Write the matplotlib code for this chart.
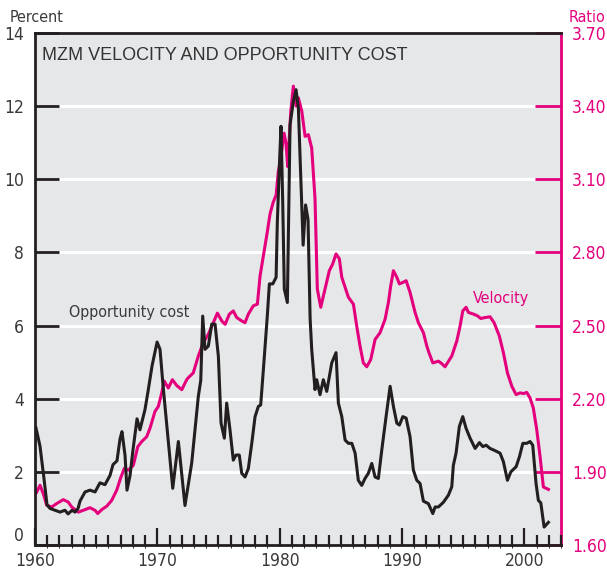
import numpy as np
import matplotlib.pyplot as plt
from matplotlib.ticker import MultipleLocator

# opportunity cost (percent, left axis)
oc_year = [1960.08, 1960.41, 1960.74, 1960.98, 1961.23, 1961.64, 1962.04, 1962.45, 1962.70,
           1963.03, 1963.27, 1963.52, 1963.68, 1964.09, 1964.50, 1964.91, 1965.31, 1965.72,
           1966.13, 1966.38, 1966.70, 1966.95, 1967.11, 1967.36, 1967.52, 1967.77, 1968.01,
           1968.34, 1968.58, 1968.99, 1969.24, 1969.57, 1969.98, 1970.22, 1970.47, 1971.26,
           1971.72, 1972.26, 1972.81, 1973.35, 1973.55, 1973.71, 1973.90, 1974.17, 1974.45,
           1974.72, 1974.99, 1975.21, 1975.48, 1975.67, 1975.94, 1976.21, 1976.43, 1976.70,
           1976.90, 1977.17, 1977.44, 1977.72, 1977.99, 1978.26, 1978.45, 1978.67, 1978.99,
           1979.16, 1979.44, 1979.71, 1979.81, 1979.98, 1980.11, 1980.25, 1980.38, 1980.63,
           1980.85, 1981.12, 1981.34, 1981.53, 1981.73, 1981.92, 1982.12, 1982.32, 1982.49,
           1982.62, 1982.89, 1983.03, 1983.30, 1983.57, 1983.85, 1984.26, 1984.61, 1984.80,
           1985.08, 1985.35, 1985.62, 1985.90, 1986.17, 1986.43, 1986.71, 1986.98, 1987.25,
           1987.53, 1987.80, 1988.07, 1988.35, 1988.70, 1989.03, 1989.30, 1989.58, 1989.79,
           1990.07, 1990.34, 1990.66, 1990.93, 1991.21, 1991.48, 1991.75, 1992.16, 1992.52,
           1992.71, 1992.98, 1993.39, 1993.79, 1994.07, 1994.20, 1994.42, 1994.69, 1994.97,
           1995.24, 1995.57, 1995.98, 1996.33, 1996.61, 1996.88, 1997.20, 1997.61, 1998.02,
           1998.29, 1998.62, 1998.90, 1999.33, 1999.60, 1999.88, 2000.20, 2000.47, 2000.69,
           2000.96, 2001.15, 2001.35, 2001.62, 2001.97]
oc_value = [3.2, 2.7, 1.8, 1.1, 1.0, 0.95, 0.9, 0.95, 0.85,
            0.95, 0.9, 1.0, 1.2, 1.45, 1.5, 1.45, 1.7, 1.65,
            1.9, 2.2, 2.3, 2.9, 3.1, 2.45, 1.5, 1.9, 2.6,
            3.45, 3.15, 3.7, 4.2, 4.9, 5.55, 5.35, 4.35, 1.55,
            2.83, 1.08, 2.24, 4.06, 4.5, 6.26, 5.35, 5.44, 6.04,
            6.04, 5.16, 3.33, 2.92, 3.88, 3.15, 2.32, 2.46, 2.46,
            1.96, 1.86, 2.09, 2.78, 3.51, 3.79, 3.83, 4.8, 6.26,
            7.14, 7.14, 7.32, 8.83, 10.39, 11.45, 9.38, 7.0, 6.63,
            11.49, 12.13, 12.45, 11.95, 10.0, 8.2, 9.3, 8.9, 6.2,
            5.35, 4.25, 4.52, 4.11, 4.52, 4.2, 4.98, 5.26, 3.88,
            3.51, 2.87, 2.78, 2.78, 2.51, 1.77, 1.63, 1.82, 1.96,
            2.23, 1.86, 1.82, 2.6, 3.51, 4.34, 3.79, 3.33, 3.28,
            3.51, 3.47, 2.96, 2.05, 1.77, 1.68, 1.2, 1.13, 0.86,
            1.04, 1.04, 1.17, 1.36, 1.59, 2.18, 2.51, 3.24, 3.51,
            3.19, 2.92, 2.64, 2.8, 2.69, 2.73, 2.64, 2.58, 2.51,
            2.28, 1.77, 2.0, 2.14, 2.41, 2.78, 2.78, 2.83, 2.73,
            1.68, 1.22, 1.15, 0.49, 0.62]

# MZM velocity (ratio, right axis)
vel_year = [1960.14, 1960.41, 1960.68, 1960.96, 1961.37, 1961.77, 1962.31, 1962.72, 1963.00,
            1963.54, 1964.09, 1964.50, 1964.91, 1965.13, 1965.45, 1965.86, 1966.27, 1966.68,
            1967.03, 1967.30, 1967.63, 1968.04, 1968.40, 1968.72, 1969.13, 1969.40, 1969.81,
            1970.08, 1970.36, 1970.57, 1970.90, 1971.23, 1971.59, 1972.00, 1972.40, 1972.53,
            1972.94, 1973.35, 1973.76, 1974.17, 1974.58, 1974.91, 1975.27, 1975.54, 1975.89,
            1976.21, 1976.49, 1976.90, 1977.17, 1977.44, 1977.85, 1978.18, 1978.40, 1978.72,
            1978.99, 1979.22, 1979.48, 1979.71, 1979.89, 1980.11, 1980.36, 1980.52, 1980.66,
            1980.91, 1981.12, 1981.34, 1981.53, 1981.81, 1982.08, 1982.35, 1982.62, 1982.89,
            1983.08, 1983.36, 1983.71, 1984.06, 1984.34, 1984.61, 1984.88, 1985.08, 1985.35,
            1985.62, 1986.03, 1986.30, 1986.57, 1986.84, 1987.12, 1987.45, 1987.80, 1988.21,
            1988.62, 1988.89, 1989.08, 1989.30, 1989.58, 1989.79, 1990.07, 1990.34, 1990.66,
            1991.07, 1991.34, 1991.75, 1992.03, 1992.20, 1992.52, 1992.98, 1993.25, 1993.52,
            1994.07, 1994.48, 1994.75, 1994.97, 1995.24, 1995.43, 1995.84, 1996.17, 1996.44,
            1996.79, 1997.20, 1997.53, 1997.96, 1998.29, 1998.62, 1998.98, 1999.33, 1999.66,
            1999.93, 2000.20, 2000.47, 2000.74, 2001.02, 2001.29, 2001.56, 2001.97]
vel_value = [1.817, 1.845, 1.81, 1.763, 1.756, 1.77, 1.786, 1.776, 1.756,
             1.735, 1.745, 1.753, 1.742, 1.729, 1.745, 1.759, 1.783, 1.825,
             1.879, 1.914, 1.907, 1.927, 2.003, 2.024, 2.044, 2.079, 2.148,
             2.168, 2.224, 2.272, 2.244, 2.278, 2.254, 2.237, 2.278, 2.286,
             2.306, 2.375, 2.43, 2.464, 2.512, 2.551, 2.519, 2.505, 2.547,
             2.56, 2.533, 2.519, 2.512, 2.547, 2.581, 2.588, 2.704, 2.801,
             2.884, 2.959, 3.007, 3.035, 3.131, 3.193, 3.289, 3.248, 3.152,
             3.379, 3.482, 3.40, 3.434, 3.379, 3.276, 3.283, 3.228, 3.021,
             2.65, 2.575, 2.65, 2.725, 2.753, 2.794, 2.774, 2.698, 2.657,
             2.616, 2.588, 2.498, 2.416, 2.347, 2.331, 2.361, 2.443, 2.471,
             2.526, 2.595, 2.663, 2.725, 2.698, 2.671, 2.677, 2.684, 2.636,
             2.554, 2.512, 2.471, 2.416, 2.39, 2.347, 2.354, 2.344, 2.331,
             2.375, 2.436, 2.498, 2.56, 2.575, 2.554, 2.547, 2.54, 2.529,
             2.533, 2.536, 2.512, 2.457, 2.389, 2.306, 2.251, 2.217, 2.224,
             2.221, 2.226, 2.203, 2.161, 2.072, 1.962, 1.838, 1.828]

pct_ticks = [0, 2, 4, 6, 8, 10, 12, 14]
ratio_ticks = [1.60, 1.90, 2.20, 2.50, 2.80, 3.10, 3.40, 3.70]
year_ticks = [1960, 1970, 1980, 1990, 2000]

PINK = '#e4007c'
BLACK = '#231f20'
TXT = '#3a3a3a'
BG = '#e6e7e9'
NARROW = dict(family='DejaVu Sans', stretch='condensed', fontsize=12.5)
WORDS = dict(family='DejaVu Sans', stretch='condensed', fontsize=11.5)

fig = plt.figure(figsize=(6.07, 5.73), dpi=100)
rect = [35 / 607, 1 - 545 / 573, 526 / 607, 512 / 573]
ax2 = fig.add_axes(rect)             # velocity, drawn behind
ax = fig.add_axes(rect, sharex=ax2)  # opportunity cost, on top
ax2.set_facecolor(BG)
ax.patch.set_visible(False)

ax.set_xlim(1960, 2003)
ax.set_ylim(0, 14)
ax2.set_ylim(1.6, 3.7)
for v in ratio_ticks[1:-1]:
    ax2.axhline(v, color='white', lw=2.2, zorder=1)

ax2.plot(vel_year, vel_value, color=PINK, lw=2.2, zorder=3)
ax.plot(oc_year, oc_value, color=BLACK, lw=2.2, zorder=4)

# spines
for s in ['left', 'top', 'bottom']:
    ax.spines[s].set_color(BLACK)
    ax.spines[s].set_linewidth(2.0)
ax.spines['right'].set_visible(False)
for s in ['left', 'top', 'bottom']:
    ax2.spines[s].set_visible(False)
ax2.spines['right'].set_color(PINK)
ax2.spines['right'].set_linewidth(2.0)

# left axis
ax.set_yticks(pct_ticks)
ax.set_yticklabels([str(v) for v in pct_ticks], color=TXT, **NARROW)
ax.tick_params(axis='y', direction='in', length=17, width=2, color=BLACK, pad=8)
ax.get_yticklabels()[0].set_va('bottom')

# right axis
ax2.yaxis.tick_right()
ax2.set_yticks(ratio_ticks)
ax2.set_yticklabels(['%.2f' % v for v in ratio_ticks], color=PINK, **NARROW)
ax2.tick_params(axis='y', direction='in', length=19, width=2, color=PINK, pad=8)
ax2.tick_params(axis='x', bottom=False, labelbottom=False)

# bottom axis
ax.set_xticks(year_ticks)
ax.set_xticklabels([str(v) for v in year_ticks], color=TXT, **NARROW)
ax.xaxis.set_minor_locator(MultipleLocator(1))
ax.tick_params(axis='x', which='major', direction='in', length=12, width=1.6, color=BLACK, pad=5)
ax.tick_params(axis='x', which='minor', direction='in', length=7, width=1.6, color=BLACK)

ax.text(0.013, 0.972, 'MZM VELOCITY AND OPPORTUNITY COST', transform=ax.transAxes,
        family=['Liberation Sans', 'DejaVu Sans'], fontsize=13, color='#333333',
        ha='left', va='top')
ax.text(1962.8, 6.35, 'Opportunity cost', color=TXT, ha='left', va='center', **WORDS)
ax2.text(1995.8, 2.61, 'Velocity', color=PINK, ha='left', va='center', **WORDS)

fig.text(10 / 607, 1 - 17 / 573, 'Percent', color=TXT, ha='left', va='center', **WORDS)
fig.text(605 / 607, 1 - 17 / 573, 'Ratio', color=PINK, ha='right', va='center', **WORDS)

fig.savefig('out.png', dpi=100)
